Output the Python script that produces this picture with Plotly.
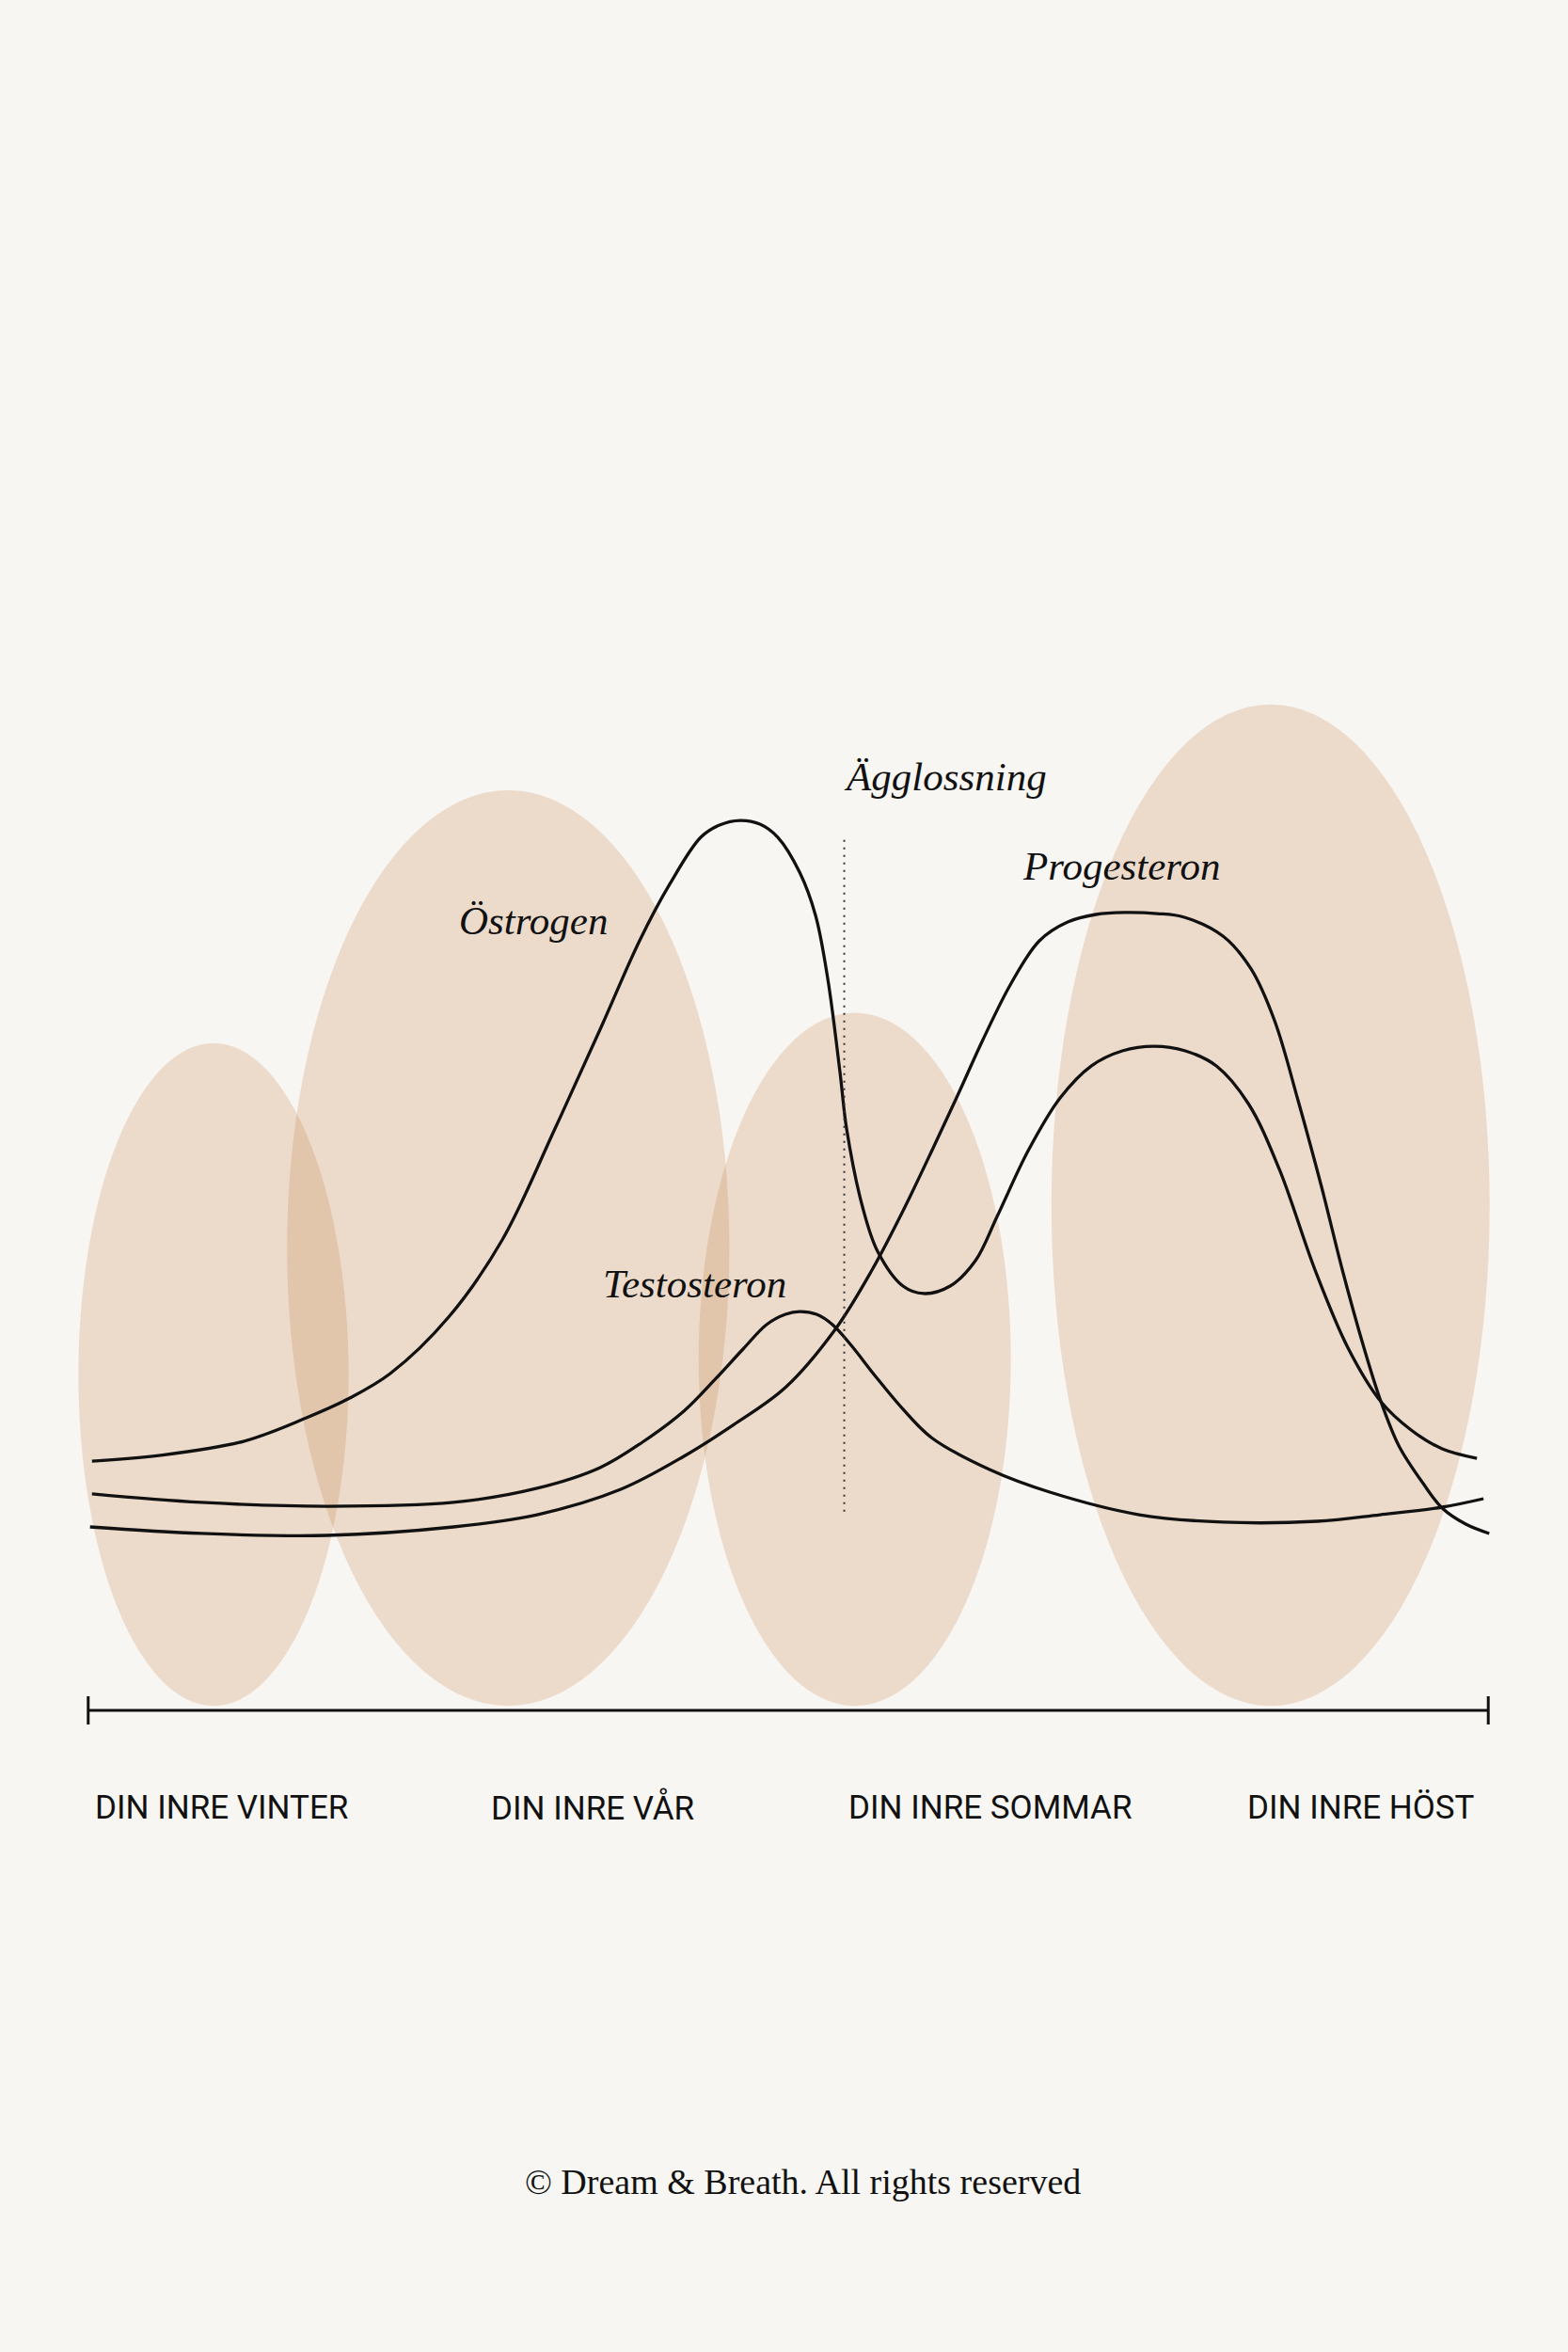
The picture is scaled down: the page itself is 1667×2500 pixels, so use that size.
import plotly.graph_objects as go

# ---------------- data ----------------
# cycle position (0-100 % of cycle) and relative hormone level (0-100)
OSTROGEN_X = [0.27, 5.04, 11.09, 15.59, 18.55, 21.57, 25.74, 29.57, 33.33, 36.69, 39.38,
              41.53, 43.75, 45.09, 46.57, 47.98, 49.26, 50.81, 51.95, 52.82, 53.70, 54.17,
              55.31, 56.38, 58.20, 59.68, 61.56, 63.37, 64.92, 67.14, 69.42, 71.64, 73.86,
              76.14, 78.36, 80.58, 82.86, 85.08, 87.63, 89.99, 92.34, 94.49, 96.71, 99.19]
OSTROGEN_Y = [22.08, 22.58, 23.83, 25.92, 27.58, 29.83, 34.83, 41.67, 51.5, 60.67, 68.17,
              73.17, 77.33, 78.42, 78.83, 78.5, 77.33, 74.25, 70.42, 64.83, 56.5, 51.5,
              44.58, 40.67, 37.58, 36.92, 37.58, 39.83, 43.75, 49.58, 54.25, 57.08, 58.42,
              58.83, 58.42, 57.08, 53.75, 47.92, 39.0, 32.08, 27.33, 24.83, 23.17, 22.33]

PROGESTERON_X = [0.13, 8.06, 17.07, 26.08, 32.06, 38.04, 42.54, 46.10, 49.80, 53.36, 55.98,
                 58.20, 60.42, 62.23, 63.91, 65.93, 67.94, 69.96, 71.98, 73.99, 76.34, 78.29,
                 81.05, 83.06, 84.74, 86.42, 88.10, 89.58, 91.13, 92.34, 93.62, 95.36, 96.71,
                 98.39, 100.07]
PROGESTERON_Y = [16.25, 15.67, 15.5, 16.25, 17.33, 19.58, 22.5, 25.3, 28.6, 33.75, 39.0,
                 44.25, 50.0, 54.83, 59.42, 64.42, 68.17, 69.83, 70.5, 70.67, 70.58, 70.25,
                 68.58, 65.67, 61.08, 54.0, 46.33, 39.0, 32.08, 27.33, 23.42, 20.08, 17.92,
                 16.5, 15.67]

TESTOSTERON_X = [0.27, 8.06, 17.07, 26.08, 32.06, 36.56, 39.58, 42.54, 44.76, 46.77, 48.45,
                 49.80, 50.81, 52.02, 53.16, 54.50, 56.18, 58.20, 60.22, 64.38, 68.68, 75.07,
                 81.05, 87.77, 92.27, 96.71, 99.66]
TESTOSTERON_Y = [19.17, 18.42, 18.08, 18.42, 19.67, 21.5, 23.75, 26.5, 29.3, 32.0, 34.17,
                 35.08, 35.33, 35.08, 34.17, 32.33, 29.67, 26.67, 24.17, 21.33, 19.33, 17.33,
                 16.67, 16.75, 17.33, 18.0, 18.75]

# ovulation marker
OVULATION_X = 54.0
OVULATION_Y = [17.6, 77.6]

# the four inner seasons (phase ellipses: left, right, top extent)
PHASES = ["DIN INRE VINTER", "DIN INRE VÅR", "DIN INRE SOMMAR", "DIN INRE HÖST"]
PHASE_LABEL_X = [9.5, 36.0, 64.4, 90.9]
PHASE_LEFT = [-0.7, 14.2, 43.6, 68.8]
PHASE_RIGHT = [18.6, 45.8, 65.9, 100.1]
PHASE_TOP = [59.1, 81.5, 61.8, 89.1]
PHASE_BOTTOM = 0.4

# hormone labels
HORMONE_NAMES = ["Östrogen", "Testosteron", "Progesteron", "Ägglossning"]
HORMONE_LABEL_X = [31.8, 43.3, 73.8, 61.2]
HORMONE_LABEL_Y = [70.0, 37.8, 74.8, 82.7]

AXIS_RANGE = [0, 100]
COPYRIGHT = "© Dream & Breath. All rights reserved"

# ---------------- styling ----------------
BG = "#F8F6F2"
INK = "#111111"
BLOB = "rgb(188,116,52)"
SERIF = "Liberation Serif, Times New Roman, serif"
SANS = "Roboto, Arial, sans-serif"

fig = go.Figure()

shapes = []
for l, r, t in zip(PHASE_LEFT, PHASE_RIGHT, PHASE_TOP):
    shapes.append(dict(type="circle", xref="x", yref="y", x0=l, x1=r, y0=PHASE_BOTTOM, y1=t,
                       fillcolor=BLOB, opacity=0.2, line=dict(width=0), layer="below"))

tick_half = 1.25
shapes.append(dict(type="line", xref="x", yref="y", x0=AXIS_RANGE[0], x1=AXIS_RANGE[1],
                   y0=0, y1=0, line=dict(color=INK, width=3)))
for xe in AXIS_RANGE:
    shapes.append(dict(type="line", xref="x", yref="y", x0=xe, x1=xe,
                       y0=-tick_half, y1=tick_half, line=dict(color=INK, width=3)))

for xs, ys, name in [(OSTROGEN_X, OSTROGEN_Y, "Östrogen"),
                     (PROGESTERON_X, PROGESTERON_Y, "Progesteron"),
                     (TESTOSTERON_X, TESTOSTERON_Y, "Testosteron")]:
    fig.add_trace(go.Scatter(x=xs, y=ys, mode="lines", name=name,
                             line=dict(color=INK, width=3.3, shape="spline", smoothing=1.0),
                             hoverinfo="skip"))

fig.add_trace(go.Scatter(x=[OVULATION_X, OVULATION_X], y=OVULATION_Y, mode="lines",
                         line=dict(color="#333333", width=2, dash="2px,6px"),
                         hoverinfo="skip"))

annotations = []
for name, x, y in zip(HORMONE_NAMES, HORMONE_LABEL_X, HORMONE_LABEL_Y):
    annotations.append(dict(x=x, y=y, xref="x", yref="y", text=f"<i>{name}</i>",
                            showarrow=False, xanchor="center", yanchor="middle",
                            font=dict(family=SERIF, size=43, color=INK)))
for name, x in zip(PHASES, PHASE_LABEL_X):
    annotations.append(dict(x=x, y=-8.6, xref="x", yref="y", text=name, showarrow=False,
                            xanchor="center", yanchor="middle",
                            font=dict(family=SANS, size=35, color=INK)))
annotations.append(dict(x=0.5097, y=-0.2886, xref="paper", yref="paper", text=COPYRIGHT,
                        showarrow=False, xanchor="center", yanchor="middle",
                        font=dict(family=SERIF, size=38, color=INK)))

fig.update_layout(
    width=1667, height=2500,
    margin=dict(l=64, r=55, t=618, b=562, pad=0),
    paper_bgcolor=BG, plot_bgcolor=BG,
    showlegend=False,
    shapes=shapes, annotations=annotations,
    xaxis=dict(range=[-2, 102], visible=False, fixedrange=True),
    yaxis=dict(range=[-10, 100], visible=False, fixedrange=True),
)

fig.write_html("out.html", post_script="document.body.style.margin='0';",
               config={"displayModeBar": False})
